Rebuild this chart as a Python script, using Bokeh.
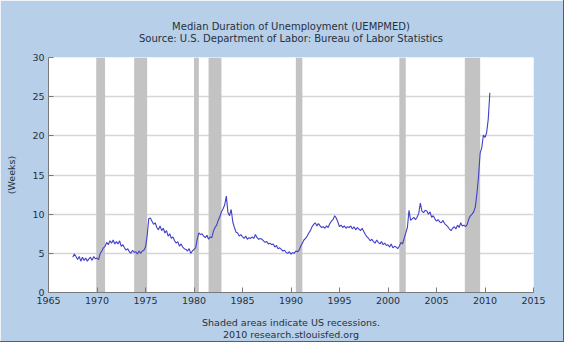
from bokeh.plotting import figure
from bokeh.models import Title, FixedTicker, Range1d, ColumnDataSource
from bokeh.embed import file_html
from bokeh.resources import INLINE

# ---- data ----
start_year = 1967.5          # July 1967
step_years = 2 / 12          # bimonthly observations
median_weeks = [
    4.5, 4.9, 4.6,
    4.2, 4.6, 4.0, 4.5, 4.1, 4.4,
    4.0, 4.3, 4.5, 4.1, 4.6, 4.3,
    4.4, 4.2, 5.0, 5.3, 5.7, 5.9,
    6.4, 6.1, 6.6, 6.3, 6.7, 6.2,
    6.5, 6.2, 6.6, 5.9, 6.1, 5.7,
    5.4, 5.6, 5.2, 5.0, 5.4, 5.1,
    5.2, 4.9, 5.3, 5.0, 5.3, 5.4,
    5.8, 7.2, 9.4, 9.5, 9.1, 8.7,
    8.9, 8.3, 8.0, 8.5, 7.9, 8.2,
    7.6, 7.9, 7.2, 7.5, 6.9, 7.1,
    6.6, 6.3, 6.5, 5.9, 6.2, 5.8,
    5.6, 5.5, 5.3, 5.6, 5.0, 5.3,
    5.5, 5.7, 6.8, 7.6, 7.4, 7.5,
    7.2, 7.0, 7.3, 6.8, 7.1, 7.0,
    7.8, 8.3, 8.6, 9.2, 9.7, 10.3,
    10.7, 11.2, 12.3, 10.2, 9.8, 10.6,
    9.0, 8.3, 7.7, 7.6, 7.2, 7.4,
    7.1, 6.9, 7.2, 6.8, 7.0, 6.9,
    7.1, 6.9, 7.4, 7.0, 6.8, 6.9,
    6.8, 6.6, 6.4, 6.5, 6.2, 6.3,
    6.1, 6.2, 5.8, 6.0, 5.6, 5.7,
    5.5, 5.3, 5.4, 5.1, 5.0, 5.2,
    4.9, 5.1, 5.0, 5.3, 5.2, 5.4,
    5.9, 6.3, 6.7, 6.9, 7.2, 7.6,
    7.9, 8.4, 8.7, 8.9, 8.5, 8.8,
    8.5, 8.3, 8.4, 8.2, 8.5, 8.3,
    8.8, 9.1, 9.3, 9.8, 9.5, 9.0,
    8.4, 8.6, 8.3, 8.5, 8.2, 8.4,
    8.3, 8.5, 8.1, 8.4, 8.0, 8.3,
    8.1, 7.9, 8.2, 7.8, 7.4, 7.1,
    6.9, 6.6, 6.8, 6.5, 6.3, 6.7,
    6.4, 6.2, 6.5, 6.1, 6.3, 6.0,
    6.1, 5.8, 6.2, 5.7, 5.9, 5.8,
    5.6, 5.9, 6.4, 6.2, 6.9, 7.6,
    8.3, 10.5, 9.2, 9.4, 9.6, 9.3,
    9.6, 10.1, 11.4, 10.4, 10.2, 10.5,
    10.4, 10.0, 10.3, 9.6, 9.8, 9.4,
    9.1, 9.3, 9.0, 8.9, 9.2, 8.8,
    8.6, 8.4, 8.1, 7.9, 8.2, 8.4,
    8.1, 8.6, 8.3, 8.9, 8.5, 8.6,
    8.4, 8.7, 9.4, 9.8, 10.0, 10.3,
    10.9, 12.6, 14.8, 17.8, 18.5, 20.1,
    19.8, 20.4, 22.1, 25.5,
]
dates = [start_year + i * step_years for i in range(len(median_weeks))]

recession_start = [1969.92, 1973.83, 1980.0, 1981.5, 1990.5, 2001.17, 2007.92]
recession_end = [1970.83, 1975.17, 1980.5, 1982.83, 1991.17, 2001.83, 2009.5]

x_ticks = [1965, 1970, 1975, 1980, 1985, 1990, 1995, 2000, 2005, 2010, 2015]
y_ticks = [0, 5, 10, 15, 20, 25, 30]

title_line1 = "Median Duration of Unemployment (UEMPMED)"
title_line2 = "Source: U.S. Department of Labor: Bureau of Labor Statistics"
note_line1 = "Shaded areas indicate US recessions."
note_line2 = "2010 research.stlouisfed.org"

# ---- style ----
PANEL = "#b7cfe8"
TEXT = "#26313e"
FONT = "DejaVu Sans"

p = figure(width=563, height=341, output_backend="svg", toolbar_location=None,
           x_range=Range1d(1965, 2015), y_range=Range1d(0, 30),
           min_border_left=48, min_border_right=30, min_border_top=57,
           min_border_bottom=49, background_fill_color="white",
           border_fill_color=PANEL, outline_line_color=None)
p.styles = {"outline": "1px solid #55606c"}


def title(text, size, standoff):
    return Title(text=text, align="center", text_font=FONT,
                 text_font_size=size, text_font_style="normal",
                 text_color=TEXT, standoff=standoff)


# titles stack outward from the frame; a blank title acts as a spacer
p.add_layout(title(" ", "10px", 0.8), "above")
p.add_layout(title(title_line2, "10px", -0.7), "above")
p.add_layout(title(title_line1, "10px", -0.7), "above")
p.add_layout(title(" ", "9.5px", -4.5), "below")
p.add_layout(title(note_line1, "9.5px", -1), "below")
p.add_layout(title(note_line2, "9.5px", -1), "below")

rec = ColumnDataSource(dict(left=recession_start, right=recession_end,
                            bottom=[0] * len(recession_start),
                            top=[30] * len(recession_start)))
p.quad(left="left", right="right", bottom="bottom", top="top", source=rec,
       fill_color="#c3c3c3", line_color=None)

src = ColumnDataSource(dict(x=dates, y=median_weeks))
p.line("x", "y", source=src, line_color="#4040c8", line_width=1.1)

for ax in (p.xaxis[0], p.yaxis[0]):
    ax.axis_line_color = "#7a7a7a"
    ax.major_tick_line_color = "#7a7a7a"
    ax.major_tick_in = 5
    ax.major_tick_out = 0
    ax.minor_tick_line_color = None
    ax.major_label_text_font = FONT
    ax.major_label_text_font_size = "9.5px"
    ax.major_label_text_color = TEXT
    ax.major_label_standoff = 4

p.xaxis.ticker = FixedTicker(ticks=x_ticks)
p.yaxis.ticker = FixedTicker(ticks=y_ticks)
p.yaxis.axis_label = "(Weeks)"
p.yaxis.axis_label_text_font = FONT
p.yaxis.axis_label_text_font_size = "9.5px"
p.yaxis.axis_label_text_font_style = "normal"
p.yaxis.axis_label_text_color = TEXT
p.yaxis.axis_label_standoff = 12

p.xgrid.grid_line_color = None
p.ygrid.grid_line_color = "#d6d6d6"
p.ygrid.grid_line_width = 1.5

open("out.html", "w").write(file_html(p, INLINE))
